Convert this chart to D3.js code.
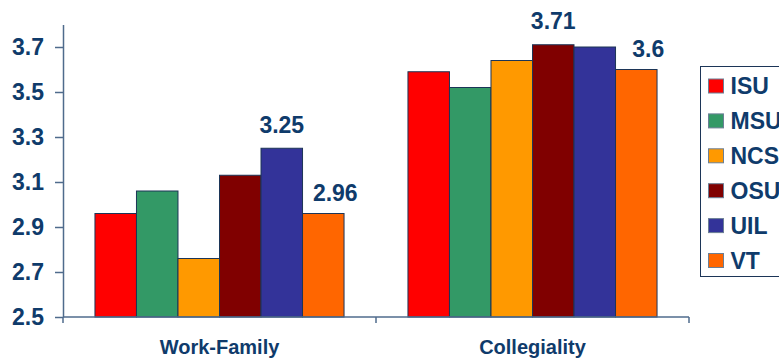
<!DOCTYPE html>
<html>
<head>
<meta charset="utf-8">
<script src="https://cdn.jsdelivr.net/npm/d3@7/dist/d3.min.js"></script>
<style>
  html, body { margin: 0; padding: 0; background: #fff; overflow: hidden; }
  svg { display: block; font-family: "Liberation Sans", Arial, sans-serif; font-weight: bold; }
</style>
</head>
<body>
<svg id="chart" width="779" height="360"></svg>
<script>
// Survey scores by category and institution
const categories = ["Work-Family", "Collegiality"];
const schools = ["ISU", "MSU", "NCS", "OSU", "UIL", "VT"];
const colors = ["#ff0000", "#339966", "#ff9900", "#800000", "#333399", "#ff6600"];
const values = {
  "Work-Family":  [2.96, 3.06, 2.76, 3.13, 3.25, 2.96],
  "Collegiality": [3.59, 3.52, 3.64, 3.71, 3.70, 3.60]
};
// Bars that carry a printed value
const labeled = {
  "Work-Family":  ["UIL", "VT"],
  "Collegiality": ["OSU", "VT"]
};
const yTicks = [2.5, 2.7, 2.9, 3.1, 3.3, 3.5, 3.7];

const navy = "#0f3b6b";
const axisColor = "#4f6b8c";

const svg = d3.select("#chart");
const plot = { left: 63, right: 689, top: 24.5, bottom: 317 };

const y = d3.scaleLinear().domain([2.5, 3.8]).range([plot.bottom, plot.top]);
const x0 = d3.scaleBand().domain(categories).range([plot.left, plot.right]).padding(0);
const x1 = d3.scaleBand().domain(schools).range([0, x0.bandwidth()]).paddingInner(0).paddingOuter(0.77);
const color = d3.scaleOrdinal().domain(schools).range(colors);

// Bars
const groups = svg.append("g").selectAll("g")
  .data(categories).join("g")
  .attr("transform", d => `translate(${x0(d)},0)`);

groups.selectAll("rect")
  .data(c => schools.map((s, i) => ({ cat: c, school: s, value: values[c][i] })))
  .join("rect")
  .attr("x", d => x1(d.school))
  .attr("y", d => y(d.value))
  .attr("width", x1.bandwidth())
  .attr("height", d => y(2.5) - y(d.value))
  .attr("fill", d => color(d.school))
  .attr("stroke", "#1c3557")
  .attr("stroke-width", 1);

// Value labels; the last bar of each group has its label nudged right
const lastSchool = schools[schools.length - 1];
groups.selectAll("text.val")
  .data(c => schools.map((s, i) => ({ cat: c, school: s, value: values[c][i] }))
    .filter(d => labeled[d.cat].includes(d.school)))
  .join("text")
  .attr("class", "val")
  .attr("x", d => x1(d.school) + x1.bandwidth() / 2 + (d.school === lastSchool ? 12 : 0))
  .attr("y", d => y(d.value) - (d.school === lastSchool ? 12.5 : 15.5))
  .attr("text-anchor", "middle")
  .attr("fill", navy)
  .attr("font-size", 23)
  .text(d => String(d.value));

// Y axis
const yAxis = svg.append("g")
  .attr("transform", `translate(${plot.left},0)`)
  .call(d3.axisLeft(y).tickValues(yTicks).tickFormat(d3.format(".1f")).tickSize(8).tickPadding(11).tickSizeOuter(0));
yAxis.select(".domain").attr("stroke", axisColor).attr("stroke-width", 1.5);
yAxis.selectAll(".tick line").attr("stroke", axisColor).attr("stroke-width", 1.5);
yAxis.selectAll(".tick text")
  .attr("fill", navy).attr("font-size", 23)
  .attr("font-family", "'Liberation Sans', Arial, sans-serif").attr("font-weight", "bold");

// X axis with ticks on category boundaries
const xAxis = svg.append("g").attr("transform", `translate(0,${plot.bottom})`);
xAxis.append("line")
  .attr("x1", plot.left).attr("x2", plot.right)
  .attr("stroke", axisColor).attr("stroke-width", 1.5);
const bounds = categories.map(c => x0(c)).concat([x0.range()[1]]);
xAxis.selectAll("line.b").data(bounds).join("line")
  .attr("class", "b")
  .attr("x1", d => d).attr("x2", d => d)
  .attr("y1", 0).attr("y2", 6)
  .attr("stroke", axisColor).attr("stroke-width", 1.5);
xAxis.selectAll("text").data(categories).join("text")
  .attr("x", d => x0(d) + x0.bandwidth() / 2)
  .attr("y", 37)
  .attr("text-anchor", "middle")
  .attr("fill", navy)
  .attr("font-size", 20)
  .text(d => d);

// Legend
const legend = svg.append("g").attr("transform", "translate(700.5,66.5)");
legend.append("rect")
  .attr("width", 110).attr("height", 210)
  .attr("fill", "#fff").attr("stroke", "#1c3557").attr("stroke-width", 1);
const items = legend.selectAll("g.item").data(schools).join("g")
  .attr("class", "item")
  .attr("transform", (d, i) => `translate(8,${12.5 + i * 34.9})`);
items.append("rect")
  .attr("width", 15).attr("height", 14)
  .attr("fill", d => color(d))
  .attr("stroke", "#6b7f95").attr("stroke-width", 1);
items.append("text")
  .attr("x", 22).attr("y", 15)
  .attr("fill", navy)
  .attr("font-size", 23)
  .text(d => d);
</script>
</body>
</html>
